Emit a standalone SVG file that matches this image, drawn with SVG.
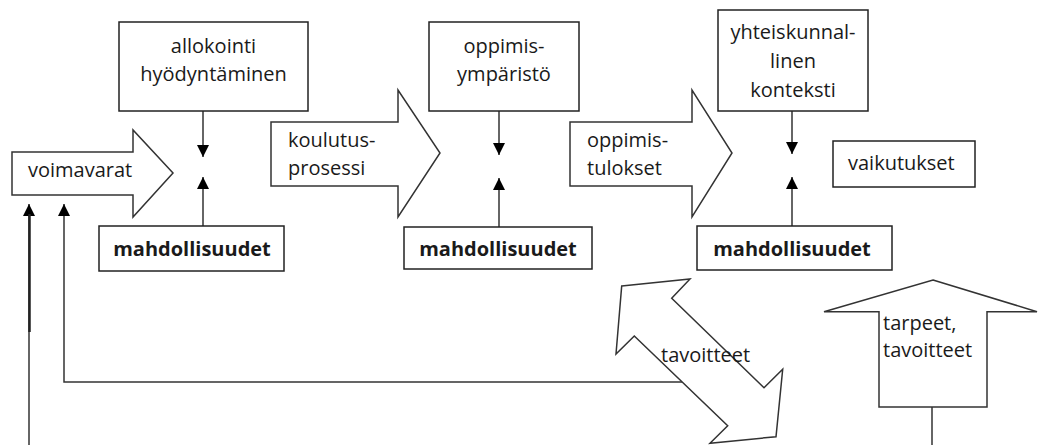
<svg xmlns="http://www.w3.org/2000/svg" width="1038" height="445" viewBox="0 0 1038 445">
<defs>
<style>
.box{fill:#fff;stroke:#222;stroke-width:1.5}
.blk{fill:#fff;stroke:#333;stroke-width:1.5;stroke-linejoin:miter}
.t{font-family:"Open Sans","Liberation Sans",sans-serif;font-size:20px;fill:#1a1a1a}
.b{font-weight:bold}
.c{text-anchor:middle}
.ln{fill:none;stroke:#333;stroke-width:1.5}
</style>
<marker id="ah" markerUnits="userSpaceOnUse" markerWidth="13" markerHeight="13" refX="12" refY="6" orient="auto">
<path d="M0,0 L12,6 L0,12 z" fill="#000"/>
</marker>
</defs>
<rect width="1038" height="445" fill="#fff"/>

<g id="connectors">
<line class="ln" x1="203" y1="111" x2="203" y2="157" marker-end="url(#ah)"/>
<line class="ln" x1="203" y1="226" x2="203" y2="177" marker-end="url(#ah)"/>
<line class="ln" x1="499" y1="111" x2="499" y2="155" marker-end="url(#ah)"/>
<line class="ln" x1="499" y1="227" x2="499" y2="178" marker-end="url(#ah)"/>
<line class="ln" x1="792" y1="111" x2="792" y2="154" marker-end="url(#ah)"/>
<line class="ln" x1="792" y1="226" x2="792" y2="177" marker-end="url(#ah)"/>
<line class="ln" x1="29" y1="445" x2="29" y2="204" marker-end="url(#ah)"/>
<line x1="29.5" y1="214" x2="29.5" y2="332" stroke="#222" stroke-width="2.5"/>
<polyline class="ln" points="682,382 64,382 64,204" marker-end="url(#ah)"/>
<line class="ln" x1="932" y1="407" x2="932" y2="445"/>
</g>

<g id="voimavarat">
<polygon class="blk" points="12,152 133,152 133,130 173,173 133,217 133,195 12,195"/>
<text class="t" x="28" y="177">voimavarat</text>
</g>

<g id="allokointi">
<rect class="box" x="119" y="22" width="189" height="89"/>
<text class="t c" x="213.5" y="53">allokointi</text>
<text class="t c" x="213.5" y="81">hyödyntäminen</text>
</g>

<g id="mahdollisuudet1">
<rect class="box" x="99" y="226" width="185" height="45"/>
<text class="t b c" x="192" y="256">mahdollisuudet</text>
</g>

<g id="koulutusprosessi">
<polygon class="blk" points="271,122 398,122 398,90 440,153 398,217 398,186 271,186"/>
<text class="t" x="288" y="147">koulutus-</text>
<text class="t" x="288" y="175">prosessi</text>
</g>

<g id="oppimisymparisto">
<rect class="box" x="429" y="22" width="150" height="89"/>
<text class="t c" x="504" y="53">oppimis-</text>
<text class="t c" x="504" y="81">ympäristö</text>
</g>

<g id="mahdollisuudet2">
<rect class="box" x="404" y="227" width="188" height="42"/>
<text class="t b c" x="498" y="256">mahdollisuudet</text>
</g>

<g id="oppimistulokset">
<polygon class="blk" points="570,122 692,122 692,90 732,153 692,217 692,186 570,186"/>
<text class="t" x="587" y="147">oppimis-</text>
<text class="t" x="587" y="175">tulokset</text>
</g>

<g id="yhteiskunnallinen">
<rect class="box" x="718" y="10" width="150" height="101"/>
<text class="t c" x="793" y="39">yhteiskunnal-</text>
<text class="t c" x="793" y="68">linen</text>
<text class="t c" x="793" y="97">konteksti</text>
</g>

<g id="mahdollisuudet3">
<rect class="box" x="697" y="226" width="195" height="44"/>
<text class="t b c" x="792" y="256">mahdollisuudet</text>
</g>

<g id="vaikutukset">
<rect class="box" x="833" y="141" width="142" height="46"/>
<text class="t" x="848" y="170">vaikutukset</text>
</g>

<g id="tavoitteet">
<polygon class="blk" points="621.7,286 690,279 671.7,298.3 764,387.7 782.7,369.3 776,436.7 710,443.3 727.7,425.7 634.3,336 616,354"/>
<text class="t" x="661" y="362">tavoitteet</text>
</g>

<g id="tarpeet">
<polygon class="blk" points="933,280 1037,311.7 987,311.7 987,407 879,407 879,311.7 824,311.7"/>
<text class="t" x="883" y="330">tarpeet,</text>
<text class="t" x="883" y="357">tavoitteet</text>
</g>
</svg>
